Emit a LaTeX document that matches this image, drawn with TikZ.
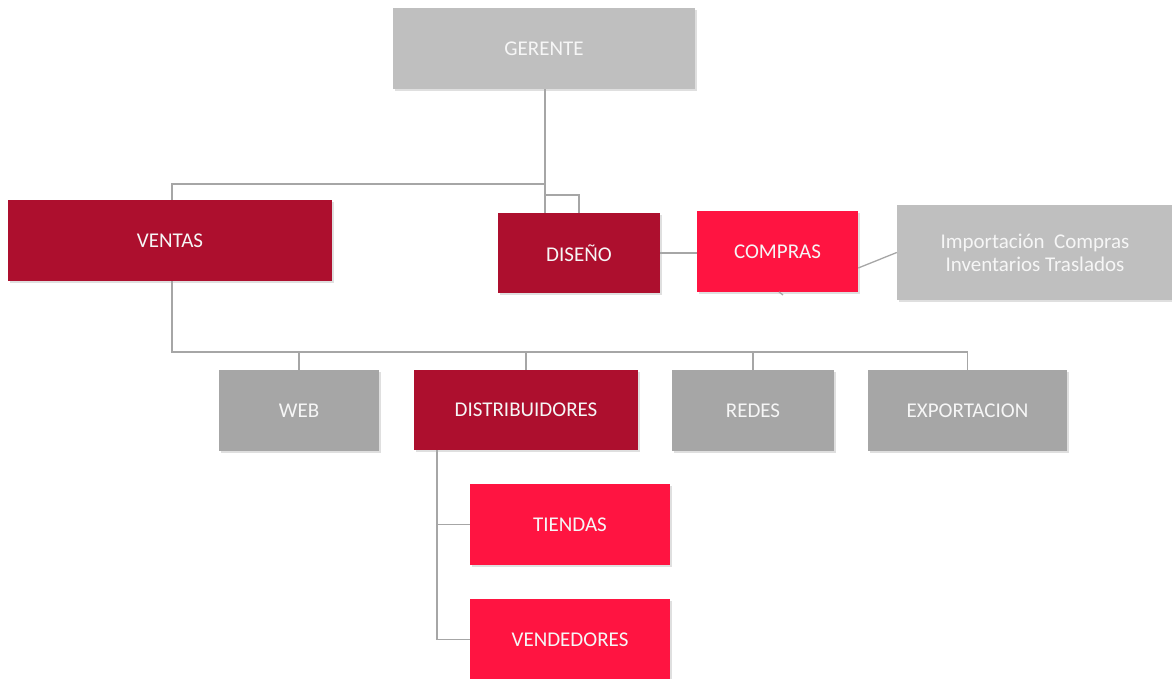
\documentclass[tikz,border=0pt]{standalone}
\usepackage{fontspec}
\setmainfont{Carlito}
\usetikzlibrary{shadows}
\definecolor{dkred}{HTML}{AD0F2E}
\definecolor{brred}{HTML}{FF1441}
\definecolor{ltgray}{HTML}{BFBFBF}
\definecolor{mdgray}{HTML}{A6A6A6}
\definecolor{linegray}{HTML}{A6A6A6}
\definecolor{txt}{HTML}{F6F6F6}
\tikzset{
  box/.style={rectangle, inner sep=0pt, text=txt, align=center,
    font=\fontsize{21}{23}\selectfont,
    drop shadow={opacity=0.25, shadow xshift=1.5pt, shadow yshift=-2pt}},
  dk/.style={box, fill=dkred},
  br/.style={box, fill=brred},
  lg/.style={box, fill=ltgray},
  mg/.style={box, fill=mdgray},
  conn/.style={draw=linegray, line width=1.3pt}
}
\begin{document}
\begin{tikzpicture}[x=1pt,y=-1pt]
\useasboundingbox (0,0) rectangle (1172,679);
% nodes
\node[lg, minimum width=302pt, minimum height=81pt] (ger) at (544,48.5) {GERENTE};
\node[dk, minimum width=324pt, minimum height=81pt] (ven) at (170,240.5) {VENTAS};
\node[dk, minimum width=162pt, minimum height=80pt] (dis) at (579,253) {DISEÑO};
\node[br, minimum width=161pt, minimum height=81pt] (com) at (777.5,251.5) {COMPRAS};
\node[lg, minimum width=276pt, minimum height=95pt] (imp) at (1035,252.5) {Importación~ Compras\\Inventarios Traslados};
\node[mg, minimum width=160pt, minimum height=81pt] (web) at (299,410.5) {WEB};
\node[dk, minimum width=224pt, minimum height=80pt] (dst) at (526,410) {DISTRIBUIDORES};
\node[mg, minimum width=162pt, minimum height=81pt] (red) at (753,410.5) {REDES};
\node[mg, minimum width=199pt, minimum height=81pt] (exp) at (967.5,410.5) {EXPORTACION};
\node[br, minimum width=200pt, minimum height=81pt] (tie) at (570,524.5) {TIENDAS};
\node[br, minimum width=200pt, minimum height=81pt] (vnd) at (570,639.5) {VENDEDORES};
% coordinates
\coordinate (g1) at (545,184);
\coordinate (g2) at (545,195);
\coordinate (v1) at (172,184);
\coordinate (v0) at (172,352);
\coordinate (d0) at (437,450);
% connectors
\draw[conn] (ger.south -| g1) -- (g1) -- (v1) -- (v1 |- ven.north);
\draw[conn] (g1) -- (dis.north -| g1);
\draw[conn] (g2) -- (579,195) -- (dis.north);
\draw[conn] (ven.south -| v0) -- (v0) -- (v0 -| exp.north);
\draw[conn] (v0 -| web.north) -- (web.north);
\draw[conn] (v0 -| dst.north) -- (dst.north);
\draw[conn] (v0 -| red.north) -- (red.north);
\draw[conn] (v0 -| exp.north) -- (exp.north);
\draw[conn] (dst.south -| d0) -- (d0 |- vnd.west) -- (vnd.west);
\draw[conn] (d0 |- tie.west) -- (tie.west);
\draw[conn] (dis.east) -- (com.west |- dis.east);
\draw[conn] (com.east |- 0,268) -- (imp.west);
\draw[conn] (779,292) -- (783,295);
\end{tikzpicture}
\end{document}
